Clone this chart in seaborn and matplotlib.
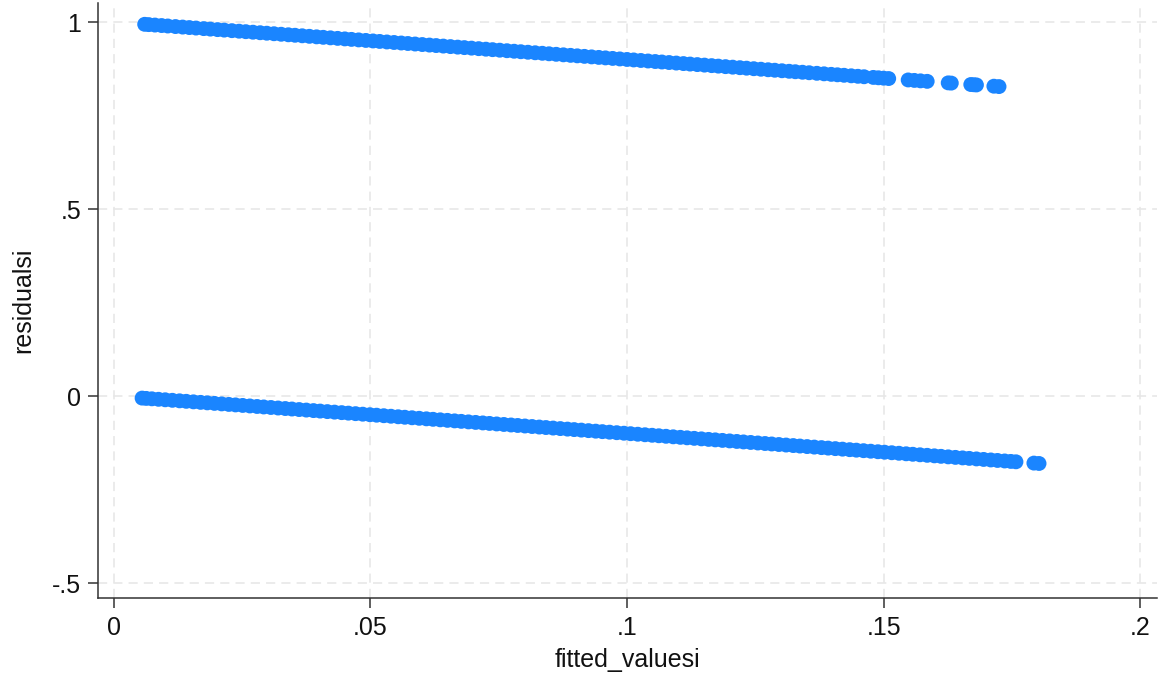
import matplotlib
matplotlib.use("Agg")
import matplotlib.pyplot as plt
import seaborn as sns
import pandas as pd

# Fitted values of the linear probability model, split by observed outcome
fitted_y1 = [
    0.0060, 0.0068, 0.0080, 0.0093, 0.0105, 0.0120, 0.0134, 0.0147, 0.0160, 0.0175,
    0.0188, 0.0202, 0.0215, 0.0230, 0.0244, 0.0257, 0.0271, 0.0285, 0.0298, 0.0312,
    0.0326, 0.0340, 0.0353, 0.0367, 0.0381, 0.0395, 0.0408, 0.0422, 0.0436, 0.0450,
    0.0463, 0.0477, 0.0491, 0.0505, 0.0518, 0.0532, 0.0546, 0.0560, 0.0573, 0.0587,
    0.0601, 0.0615, 0.0628, 0.0642, 0.0656, 0.0670, 0.0683, 0.0697, 0.0711, 0.0725,
    0.0738, 0.0752, 0.0766, 0.0780, 0.0793, 0.0807, 0.0821, 0.0835, 0.0848, 0.0862,
    0.0876, 0.0890, 0.0903, 0.0917, 0.0931, 0.0945, 0.0958, 0.0972, 0.0986, 0.1000,
    0.1013, 0.1027, 0.1041, 0.1055, 0.1068, 0.1082, 0.1096, 0.1110, 0.1123, 0.1137,
    0.1151, 0.1165, 0.1178, 0.1192, 0.1206, 0.1220, 0.1233, 0.1247, 0.1261, 0.1275,
    0.1288, 0.1302, 0.1316, 0.1328, 0.1342, 0.1355, 0.1370, 0.1384, 0.1398, 0.1410,
    0.1423, 0.1437, 0.1450, 0.1462, 0.1480, 0.1490, 0.1500, 0.1510, 0.1548, 0.1560,
    0.1572, 0.1585, 0.1626, 0.1632, 0.1670, 0.1676, 0.1681, 0.1715, 0.1725,
]
fitted_y0 = [
    0.0055, 0.0063, 0.0074, 0.0087, 0.0100, 0.0114, 0.0128, 0.0141, 0.0155, 0.0169,
    0.0182, 0.0196, 0.0210, 0.0224, 0.0237, 0.0251, 0.0265, 0.0279, 0.0292, 0.0306,
    0.0320, 0.0334, 0.0347, 0.0361, 0.0375, 0.0389, 0.0402, 0.0416, 0.0430, 0.0444,
    0.0457, 0.0471, 0.0485, 0.0499, 0.0512, 0.0526, 0.0540, 0.0554, 0.0567, 0.0581,
    0.0595, 0.0609, 0.0622, 0.0636, 0.0650, 0.0664, 0.0677, 0.0691, 0.0705, 0.0719,
    0.0732, 0.0746, 0.0760, 0.0774, 0.0787, 0.0801, 0.0815, 0.0829, 0.0842, 0.0856,
    0.0870, 0.0884, 0.0897, 0.0911, 0.0925, 0.0939, 0.0952, 0.0966, 0.0980, 0.0994,
    0.1007, 0.1021, 0.1035, 0.1049, 0.1062, 0.1076, 0.1090, 0.1104, 0.1117, 0.1131,
    0.1145, 0.1159, 0.1172, 0.1186, 0.1200, 0.1214, 0.1227, 0.1241, 0.1255, 0.1269,
    0.1282, 0.1296, 0.1310, 0.1324, 0.1337, 0.1351, 0.1365, 0.1379, 0.1392, 0.1406,
    0.1420, 0.1434, 0.1447, 0.1461, 0.1475, 0.1489, 0.1502, 0.1516, 0.1530, 0.1544,
    0.1557, 0.1571, 0.1585, 0.1599, 0.1612, 0.1626, 0.1640, 0.1654, 0.1667, 0.1681,
    0.1695, 0.1709, 0.1722, 0.1736, 0.1748, 0.1758, 0.1793, 0.1803,
]

x_ticks = [0, 0.05, 0.1, 0.15, 0.2]
x_tick_labels = ["0", ".05", ".1", ".15", ".2"]
y_ticks = [-0.5, 0, 0.5, 1]
y_tick_labels = ["-.5", "0", ".5", "1"]

# Residual = observed outcome - fitted value
df = pd.DataFrame({
    "fitted_valuesi": fitted_y1 + fitted_y0,
    "outcome": [1] * len(fitted_y1) + [0] * len(fitted_y0),
})
df["residualsi"] = df["outcome"] - df["fitted_valuesi"]

sns.set_theme(style="white")
plt.rcParams["font.family"] = ["Liberation Sans", "DejaVu Sans"]

fig = plt.figure(figsize=(11.61, 6.80), dpi=100)
ax = fig.add_axes([0.0844, 0.1206, 0.9122, 0.875])

sns.scatterplot(data=df, x="fitted_valuesi", y="residualsi", ax=ax,
                color="#1a85ff", s=115, linewidth=0, edgecolor="none", zorder=3)

ax.set_xlim(-0.0031, 0.2033)
ax.set_ylim(-0.54, 1.051)

ax.set_xticks(x_ticks)
ax.set_xticklabels(x_tick_labels)
ax.set_yticks(y_ticks)
ax.set_yticklabels(y_tick_labels)

for s in ["top", "right"]:
    ax.spines[s].set_visible(False)
for s in ["left", "bottom"]:
    ax.spines[s].set_color("#333333")
    ax.spines[s].set_linewidth(1.1)

ax.tick_params(axis="both", which="major", direction="out", length=7, width=1.1,
               color="#333333", labelsize=18, labelcolor="#111111",
               left=True, bottom=True)
ax.tick_params(axis="x", pad=6)
ax.tick_params(axis="y", pad=5)

ax.grid(True, color="#e6e6e6", linestyle=(0, (6, 4)), linewidth=1.1, zorder=0)
ax.set_axisbelow(True)

ax.set_xlabel("fitted_valuesi", fontsize=18, color="#111111", labelpad=6)
ax.set_ylabel("residualsi", fontsize=18, color="#111111", labelpad=12)

fig.savefig("out.png", dpi=100, facecolor="white")
